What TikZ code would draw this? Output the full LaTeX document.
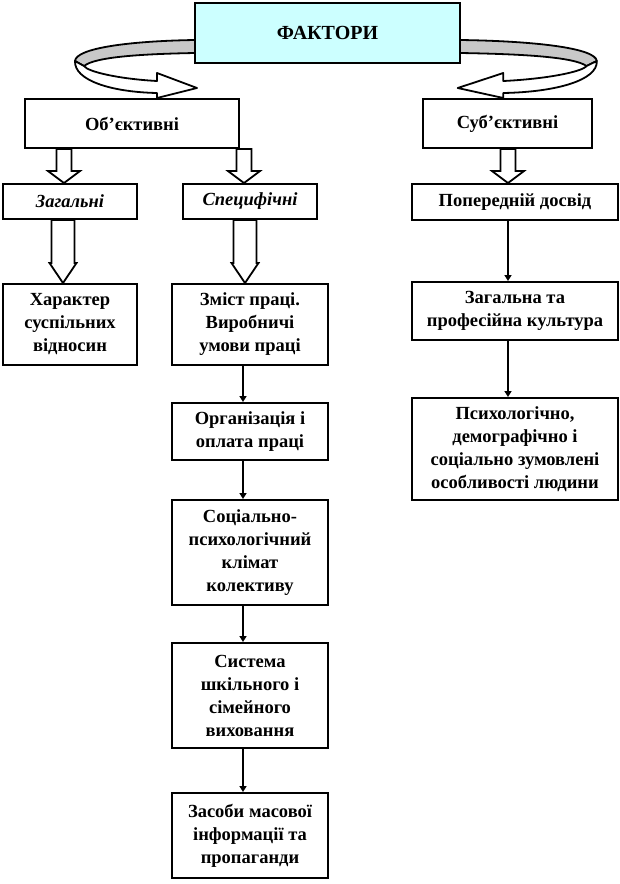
\documentclass[tikz,border=0pt]{standalone}
\usepackage{fontspec}
\setmainfont{Liberation Serif}
\usetikzlibrary{arrows.meta,calc}
\definecolor{fakcyan}{HTML}{CCFFFF}
\definecolor{ribgray}{HTML}{C8C8C8}
\tikzset{
  box/.style={draw=black, line width=2pt, fill=white, align=center, inner sep=2pt,
    font=\bfseries\fontsize{18.5}{23}\selectfont},
  itbox/.style={box, font=\bfseries\itshape\fontsize{18.5}{23}\selectfont},
  barrow/.style={draw=black, line width=1.8pt, fill=white, line join=miter},
  thinarrow/.style={draw=black, line width=2pt, -{Triangle[length=6pt,width=7pt]}},
  ribbon/.style={draw=black, line width=1.8pt, line join=round},
}
\newcommand\blockarr[6]{%
  \path[barrow] let \p1=(#1.south), \p2=(#2.north) in
   ({#3pt-#4pt},\y1) -- ({#3pt-#4pt},{\y2+#6pt}) -- ({#3pt-#5pt},{\y2+#6pt}) --
   ({#3pt},\y2) -- ({#3pt+#5pt},{\y2+#6pt}) -- ({#3pt+#4pt},{\y2+#6pt}) --
   ({#3pt+#4pt},\y1) -- cycle;}
\newcommand\ribbonshape{%
  \path[ribbon, fill=ribgray] (195,40) .. controls (130,41) and (76,48) .. (75,61)
     -- (84,66) .. controls (95,57) and (140,54) .. (195,53) -- cycle;
  \path[ribbon, fill=white] (75,61) .. controls (74,80) and (110,92) .. (157,93)
     -- (157,98) -- (197,88) -- (157,73) -- (157,81)
     .. controls (120,79) and (88,72) .. (84,66) -- cycle;}
\begin{document}
\begin{tikzpicture}[x=1pt,y=-1pt]
\useasboundingbox (0,0) rectangle (620,884);

% ribbons (drawn first, under the top box)
\ribbonshape
\begin{scope}[shift={(460,0)}, xscale=-1.14, shift={(-195,0)}]
  \ribbonshape
\end{scope}

\node[box, fill=fakcyan, minimum width=265pt, minimum height=60pt,
  font=\bfseries\fontsize{20}{24}\selectfont] (fak) at (327.5,33) {ФАКТОРИ};

\node[box, minimum width=214pt, minimum height=49pt] (obj) at (132,123.5) {Об’єктивні};
\node[box, minimum width=169pt, minimum height=49pt] (sub) at (507.5,123.5) {Суб’єктивні};

\node[itbox, minimum width=134pt, minimum height=35pt] (zag) at (70,201.5) {Загальні};
\node[itbox, minimum width=134pt, minimum height=35pt] (spec) at (250,201.5) {Специфічні};
\node[box, minimum width=206pt, minimum height=36pt] (pop) at (515,202) {Попередній досвід};

\node[box, minimum width=134pt, minimum height=81pt] (har) at (70,324.5) {Характер\\суспільних\\відносин};
\node[box, minimum width=156pt, minimum height=81pt] (zmi) at (250,324.5) {Зміст праці.\\Виробничі\\умови праці};
\node[box, minimum width=156pt, minimum height=57pt] (org) at (250,431.5) {Організація і\\оплата праці};
\node[box, minimum width=156pt, minimum height=105pt] (soc) at (250,552.5) {Соціально-\\психологічний\\клімат\\колективу};
\node[box, minimum width=156pt, minimum height=105pt] (sys) at (250,695.5) {Система\\шкільного і\\сімейного\\виховання};
\node[box, minimum width=156pt, minimum height=85pt] (zas) at (250,835.5) {Засоби масової\\інформації та\\пропаганди};

\node[box, minimum width=206pt, minimum height=58pt] (zpk) at (515,311) {Загальна та\\професійна культура};
\node[box, minimum width=206pt, minimum height=102pt] (psy) at (515,449) {Психологічно,\\демографічно і\\соціально зумовлені\\особливості людини};

% block arrows
\blockarr{obj}{zag}{64}{7.5}{16}{12}
\blockarr{obj}{spec}{244}{7.5}{16}{12}
\blockarr{sub}{pop}{508}{7.5}{16}{12}
\blockarr{zag}{har}{63}{11.5}{13.5}{20}
\blockarr{spec}{zmi}{245}{11.5}{13.5}{20}

% thin arrows
\draw[thinarrow] ([xshift=-7pt]zmi.south) -- ([xshift=-7pt]org.north);
\draw[thinarrow] ([xshift=-7pt]org.south) -- ([xshift=-7pt]soc.north);
\draw[thinarrow] ([xshift=-7pt]soc.south) -- ([xshift=-7pt]sys.north);
\draw[thinarrow] ([xshift=-7pt]sys.south) -- ([xshift=-7pt]zas.north);
\draw[thinarrow] ([xshift=-7pt]pop.south) -- ([xshift=-7pt]zpk.north);
\draw[thinarrow] ([xshift=-7pt]zpk.south) -- ([xshift=-7pt]psy.north);
\end{tikzpicture}
\end{document}
